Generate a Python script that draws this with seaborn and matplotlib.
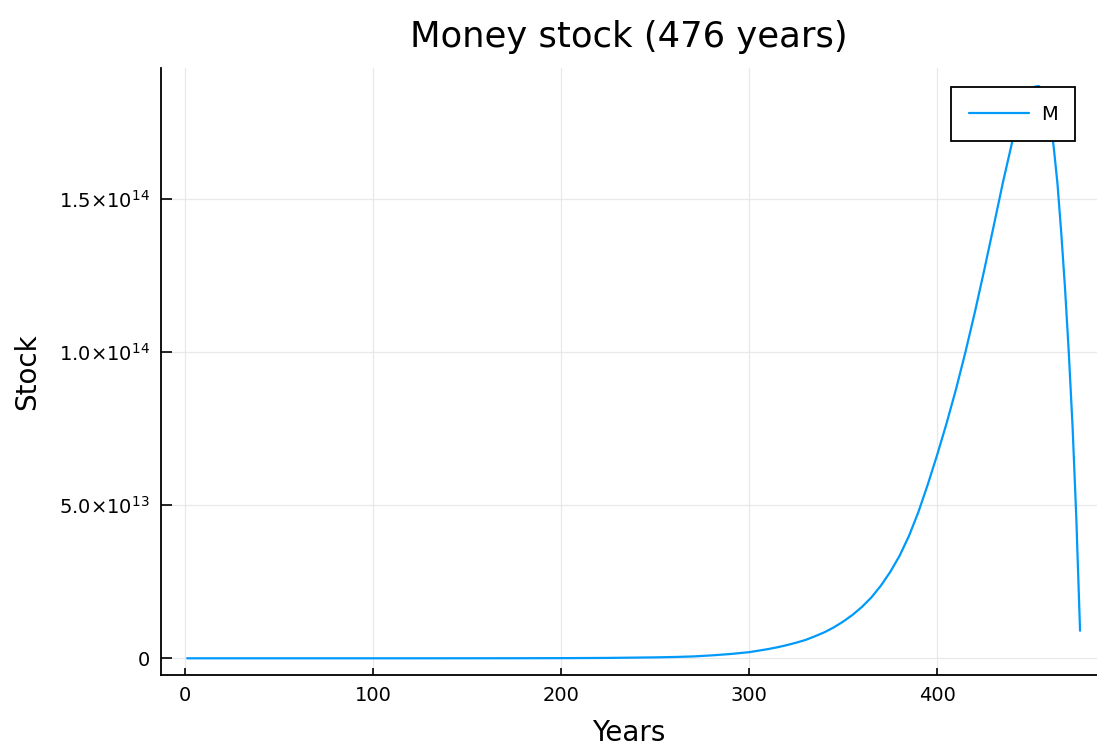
import matplotlib
matplotlib.use("Agg")
import matplotlib.pyplot as plt
import seaborn as sns
import pandas as pd

# Money stock, in units of 1e12
years = [1, 25, 50, 75, 100, 125, 150, 175, 200, 225, 250, 260, 270, 280, 290,
         300, 305, 310, 315, 320, 325, 330, 335, 340, 345, 350, 355, 360, 365,
         370, 375, 380, 385, 390, 395, 400, 405, 410, 415, 420, 425, 430, 435,
         440, 445, 448, 450, 452, 454, 456, 458, 460, 462, 464, 466, 468, 470,
         472, 474, 476]
stock_trillions = [0.0, 0.0, 0.0, 0.0, 0.0, 0.0, 0.01, 0.02, 0.05, 0.12, 0.3,
                   0.42, 0.6, 0.95, 1.4, 2.0, 2.5, 3.0, 3.6, 4.3, 5.1, 6.0, 7.2,
                   8.5, 10.1, 12.0, 14.2, 16.8, 19.9, 23.7, 28.2, 33.5, 40.0,
                   47.8, 56.8, 66.5, 76.8, 87.9, 100.0, 113.0, 126.8, 141.1,
                   155.6, 169.0, 179.6, 183.9, 185.8, 186.8, 187.0, 185.8,
                   182.5, 176.5, 167.0, 155.0, 139.0, 121.0, 100.0, 76.0, 46.0,
                   9.0]

x_ticks = [0, 100, 200, 300, 400]
y_ticks = [0, 5e13, 1e14, 1.5e14]
y_tick_labels = ["0", r"$5.0{\times}10^{13}$", r"$1.0{\times}10^{14}$", r"$1.5{\times}10^{14}$"]

df = pd.DataFrame({"Years": years, "M": [v * 1e12 for v in stock_trillions]})

sns.set_style("white")
plt.rcParams['font.family'] = ['DejaVu Sans']
plt.rcParams['text.color'] = 'black'
plt.rcParams['axes.labelcolor'] = 'black'
plt.rcParams['xtick.color'] = 'black'
plt.rcParams['ytick.color'] = 'black'

fig = plt.figure(figsize=(10.97, 7.48), dpi=100)
ax = fig.add_axes([0.1468, 0.0976, 0.853, 0.8115])

sns.lineplot(data=df, x="Years", y="M", ax=ax, color="#009AFA", linewidth=1.6, label="M")

ax.set_xlim(-12.9, 484.9)
ax.set_ylim(-5.46e12, 192.9e12)
ax.set_xticks(x_ticks)
ax.set_yticks(y_ticks)
ax.set_yticklabels(y_tick_labels)
ax.tick_params(bottom=True, left=True, direction="in", width=1.2, pad=8)
ax.tick_params(axis="x", length=5, labelsize=14)
ax.tick_params(axis="y", length=8, labelsize=14)
ax.grid(True, color="#e8e8e8", linewidth=0.9)

for side in ["top", "right"]:
    ax.spines[side].set_visible(False)
for side in ["left", "bottom"]:
    ax.spines[side].set_color("black")
    ax.spines[side].set_linewidth(1.3)

ax.set_title("Money stock (476 years)", fontsize=25.5, pad=15)
ax.set_xlabel("Years", fontsize=20)
ax.set_ylabel("Stock", fontsize=20)
ax.xaxis.set_label_coords(0.5, -0.072)
ax.yaxis.set_label_coords(-0.128, 0.5)

leg = ax.legend(loc="upper right", bbox_to_anchor=(1075 / 1097, 1 - 87 / 748),
                bbox_transform=fig.transFigure, borderaxespad=0, fontsize=14,
                fancybox=False, framealpha=1, borderpad=0.9, handlelength=3.1,
                handletextpad=0.6)
leg.get_frame().set_edgecolor("black")
leg.get_frame().set_linewidth(1.3)

fig.savefig("out.png", dpi=100)
